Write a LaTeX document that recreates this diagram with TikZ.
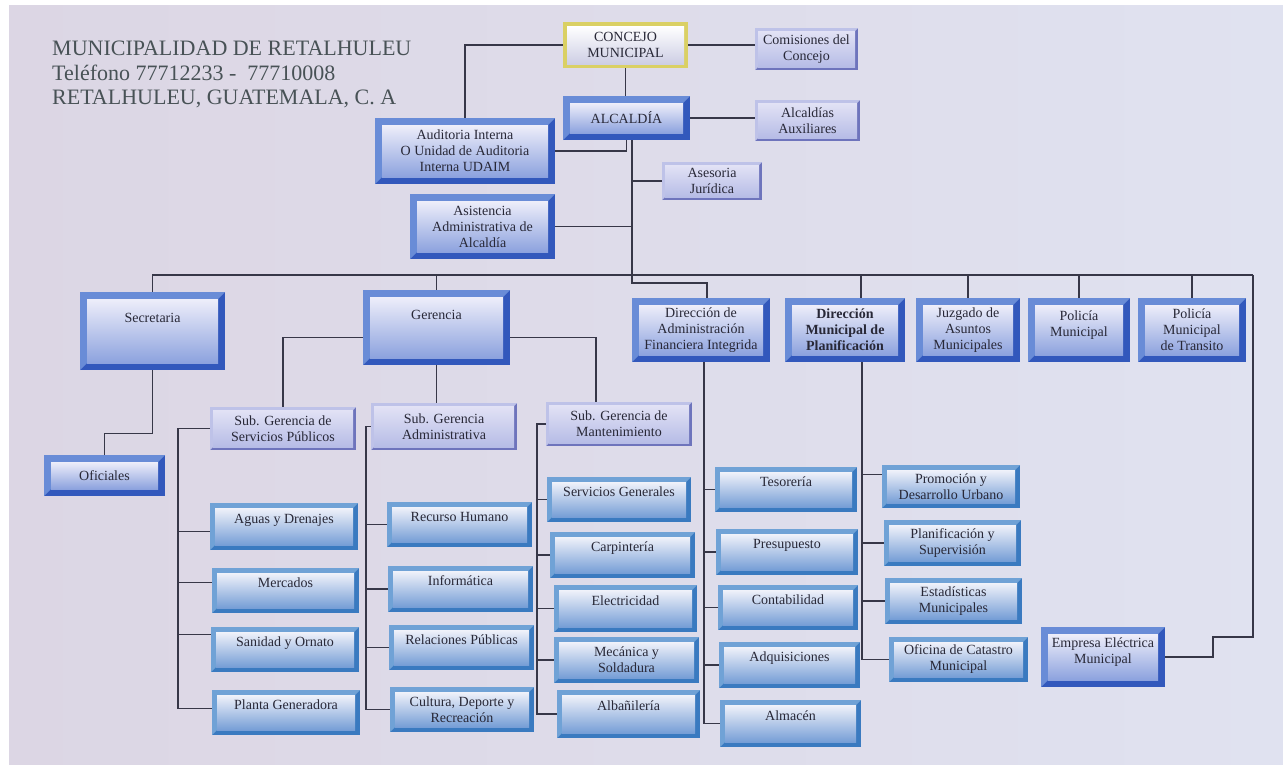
\documentclass[tikz,border=0pt]{standalone}
\usepackage{fontspec}
\setmainfont{Liberation Serif}
\usetikzlibrary{calc}
\definecolor{bgL}{RGB}{220,214,228}
\definecolor{bgR}{RGB}{224,226,240}
\definecolor{bigL}{RGB}{105,140,215}
\definecolor{bigD}{RGB}{50,88,188}
\definecolor{bigI}{RGB}{140,162,222}
\definecolor{bigT}{RGB}{238,238,250}
\definecolor{subL}{RGB}{190,194,232}
\definecolor{subD}{RGB}{110,116,188}
\definecolor{subI}{RGB}{182,188,230}
\definecolor{subT}{RGB}{226,226,245}
\definecolor{chL}{RGB}{112,162,214}
\definecolor{chD}{RGB}{58,122,192}
\definecolor{chI}{RGB}{118,158,214}
\definecolor{chT}{RGB}{240,242,250}
\definecolor{yel}{RGB}{218,208,100}
\definecolor{yelI}{RGB}{205,206,228}
\definecolor{ink}{RGB}{40,40,55}
\definecolor{wire}{RGB}{55,55,72}
\definecolor{head}{RGB}{72,82,86}
\newcommand\bxfont{\fontsize{14}{16}\selectfont}
\newcommand\obox[7]{\node[#1, minimum width={(#5-#3)*1pt}, minimum height={(#6-#4)*1pt}] (#2) at ({(#3+#5)/2},{(#4+#6)/2}) {#7};}
\tikzset{
  bx/.style n args={5}{rectangle, inner sep=1pt, align=center, font=\bxfont, text=ink,
    path picture={
      \fill[#2] (path picture bounding box.south west) rectangle (path picture bounding box.north east);
      \fill[#1] (path picture bounding box.south west) -- (path picture bounding box.north west) -- (path picture bounding box.north east)
        -- ([shift={(-#4,-#4)}]path picture bounding box.north east) -- ([shift={(#4,-#4)}]path picture bounding box.north west)
        -- ([shift={(#4,#4)}]path picture bounding box.south west) -- cycle;
      \shade[top color=#5, bottom color=#3] ([shift={(#4,#4)}]path picture bounding box.south west) rectangle ([shift={(-#4,-#4)}]path picture bounding box.north east);
    }},
  bigbox/.style={bx={bigL}{bigD}{bigI}{7pt}{bigT}},
  subbox/.style={bx={subL}{subD}{subI}{3pt}{subT}},
  chbox/.style={bx={chL}{chD}{chI}{5pt}{chT}},
  cjbox/.style={bx={yel}{yel}{yelI}{4pt}{white}},
  lift/.style={text height=10pt, text depth=#1},
  wires/.style={draw=wire, line width=1.1pt},
  headtext/.style={anchor=base west, font=\fontsize{22}{24}\selectfont, text=head, inner sep=0pt},
}
\begin{document}
\begin{tikzpicture}[x=1pt,y=-1pt]
\useasboundingbox (0,0) rectangle (1283,777);
\fill[white] (0,0) rectangle (1283,777);
\shade[left color=bgL, right color=bgR] (9,5) rectangle (1283,764);

% header
\node[headtext] (h1) at (52,55) {MUNICIPALIDAD DE RETALHULEU};
\node[headtext] (h2) at (52,80) {Teléfono 77712233 -~~77710008};
\node[headtext] (h3) at (52,104) {RETALHULEU, GUATEMALA, C. A};

% top
\obox{cjbox}{concejo}{563}{22}{688}{68}{CONCEJO\\MUNICIPAL}
\obox{subbox}{comis}{755}{28}{858}{70}{Comisiones del\\Concejo}
\obox{bigbox}{alc}{563}{96}{690}{140}{ALCALDÍA}
\obox{subbox}{aux}{755}{100}{860}{141}{Alcaldías\\Auxiliares}
\obox{bigbox}{aud}{375}{118}{555}{184}{Auditoria Interna\\O Unidad de Auditoria\\Interna UDAIM}
\obox{subbox}{ases}{662}{162}{762}{200}{Asesoria\\Jurídica}
\obox{bigbox}{asis}{410}{194}{555}{259}{Asistencia\\Administrativa de\\Alcaldía}

% second row
\obox{bigbox,lift=27pt}{sec}{80}{292}{225}{370}{Secretaria}
\obox{bigbox,lift=27pt}{ger}{363}{290}{510}{365}{Gerencia}
\obox{bigbox}{dafi}{632}{298}{770}{362}{Dirección de\\Administración\\Financiera Integrida}
\obox{bigbox,font=\bxfont\bfseries}{dmp}{785}{298}{905}{362}{Dirección\\Municipal de\\Planificación}
\obox{bigbox}{juz}{916}{298}{1020}{362}{Juzgado de\\Asuntos\\Municipales}
\obox{bigbox,text depth=12pt}{pm}{1028}{298}{1130}{362}{Policía\\Municipal}
\obox{bigbox}{pmt}{1138}{298}{1246}{362}{Policía\\Municipal\\de Transito}
\obox{bigbox}{ofi}{44}{455}{165}{496}{Oficiales}

% sub gerencias
\obox{subbox}{sgsp}{210}{407}{356}{450}{Sub. Gerencia de\\Servicios Públicos}
\obox{subbox}{sga}{371}{403}{517}{450}{Sub. Gerencia\\Administrativa}
\obox{subbox}{sgm}{546}{402}{692}{446}{Sub. Gerencia de\\Mantenimiento}

% column 1
\obox{chbox,lift=17pt}{agu}{210}{503}{358}{550}{Aguas y Drenajes}
\obox{chbox,lift=17pt}{mer}{212}{568}{359}{613}{Mercados}
\obox{chbox,lift=17pt}{san}{211}{627}{359}{672}{Sanidad y Ornato}
\obox{chbox,lift=17pt}{pla}{212}{690}{360}{735}{Planta Generadora}
% column 2
\obox{chbox,lift=17pt}{rh}{387}{502}{532}{547}{Recurso Humano}
\obox{chbox,lift=17pt}{inf}{388}{566}{533}{612}{Informática}
\obox{chbox,lift=17pt}{rp}{389}{625}{534}{670}{Relaciones Públicas}
\obox{chbox}{cul}{390}{687}{534}{732}{Cultura, Deporte y\\Recreación}
% column 3
\obox{chbox,lift=17pt}{sg}{547}{477}{691}{522}{Servicios Generales}
\obox{chbox,lift=17pt}{car}{550}{532}{695}{578}{Carpintería}
\obox{chbox,lift=17pt}{ele}{554}{585}{697}{632}{Electricidad}
\obox{chbox}{mec}{554}{637}{699}{683}{Mecánica y\\Soldadura}
\obox{chbox,lift=17pt}{alb}{557}{690}{700}{738}{Albañilería}
% column 4
\obox{chbox,lift=17pt}{tes}{715}{467}{857}{512}{Tesorería}
\obox{chbox,lift=17pt}{pre}{716}{529}{858}{575}{Presupuesto}
\obox{chbox,lift=17pt}{con}{718}{585}{858}{630}{Contabilidad}
\obox{chbox,lift=17pt}{adq}{719}{642}{860}{688}{Adquisiciones}
\obox{chbox,lift=17pt}{alm}{720}{700}{861}{747}{Almacén}
% column 5
\obox{chbox}{pro}{882}{465}{1020}{508}{Promoción y\\Desarrollo Urbano}
\obox{chbox}{plan}{884}{520}{1021}{566}{Planificación y\\Supervisión}
\obox{chbox}{est}{885}{578}{1022}{624}{Estadísticas\\Municipales}
\obox{chbox}{ofc}{889}{637}{1028}{682}{Oficina de Catastro\\Municipal}
\obox{bigbox,text depth=12pt}{emp}{1041}{627}{1165}{687}{Empresa Eléctrica\\Municipal}

% coordinates
\coordinate (tr) at (632,275);
\coordinate (bR) at (1253,275);
\coordinate (rc) at (1213,637);
\coordinate (c1) at (178,0);
\coordinate (c2) at (366,0);
\coordinate (c3) at (537,0);
\coordinate (c5) at (862,0);

% top connectors
\draw[wires] (concejo.west) -| (aud.north);
\draw[wires] (concejo.east) -- (concejo.east -| comis.west);
\draw[wires] (concejo.south) -- (concejo.south |- alc.north);
\draw[wires] (alc.east) -- (alc.east -| aux.west);
\draw[wires] (aud.east) -| (alc.south);
\draw[wires] (alc.south -| tr) -- (tr);
\draw[wires] (tr |- ases.west) -- (ases.west);
\draw[wires] (asis.east) -- (asis.east -| tr);

% main bar
\draw[wires] (sec.north) |- (bR);
\draw[wires] (bR) |- (rc) |- (emp.east);
\draw[wires] (ger.north |- bR) -- (ger.north);
\draw[wires] (tr) -- ++(0,8) -| ([xshift=6pt]dafi.north);
\draw[wires] ([xshift=16pt]dmp.north |- bR) -- ([xshift=16pt]dmp.north);
\draw[wires] (juz.north |- bR) -- (juz.north);
\draw[wires] (pm.north |- bR) -- (pm.north);
\draw[wires] (pmt.north |- bR) -- (pmt.north);

% secretaria
\draw[wires] (sec.south) -- ++(0,63) -| (ofi.north);

% gerencia
\draw[wires] ([yshift=-10pt]ger.west) -| (sgsp.north);
\draw[wires] (ger.south) -- (ger.south |- sga.north);
\draw[wires] ([yshift=-10pt]ger.east) -| ([xshift=-23pt]sgm.north);

% column 1
\draw[wires] (sgsp.west) -| ([yshift=4pt]c1 |- pla.west) -- ([yshift=4pt]pla.west);
\draw[wires] ([yshift=-5pt]agu.west -| c1) -- ([yshift=-5pt]agu.west);
\draw[wires] ([yshift=8pt]mer.west -| c1) -- ([yshift=8pt]mer.west);
\draw[wires] ([yshift=15pt]san.west -| c1) -- ([yshift=15pt]san.west);
% column 2
\draw[wires] (sga.west) -| (c2 |- cul.west) -- (cul.west);
\draw[wires] (c2 |- rh.west) -- (rh.west);
\draw[wires] (c2 |- inf.west) -- (inf.west);
\draw[wires] (c2 |- rp.west) -- (rp.west);
% column 3
\draw[wires] (sgm.west) -| (c3 |- alb.west) -- (alb.west);
\draw[wires] (c3 |- sg.west) -- (sg.west);
\draw[wires] (c3 |- car.west) -- (car.west);
\draw[wires] (c3 |- ele.west) -- (ele.west);
\draw[wires] (c3 |- mec.west) -- (mec.west);
% column 4
\draw[wires] ([xshift=3pt]dafi.south) |- (alm.west);
\draw[wires] ([xshift=3pt]dafi.south |- tes.west) -- (tes.west);
\draw[wires] ([xshift=3pt]dafi.south |- pre.west) -- (pre.west);
\draw[wires] ([xshift=3pt]dafi.south |- con.west) -- (con.west);
\draw[wires] ([xshift=3pt]dafi.south |- adq.west) -- (adq.west);
% column 5
\draw[wires] (c5 |- dmp.south) |- (ofc.west);
\draw[wires] ([yshift=12pt]pro.west -| c5) -- ([yshift=12pt]pro.west);
\draw[wires] (c5 |- plan.west) -- (plan.west);
\draw[wires] (c5 |- est.west) -- (est.west);
\end{tikzpicture}
\end{document}
